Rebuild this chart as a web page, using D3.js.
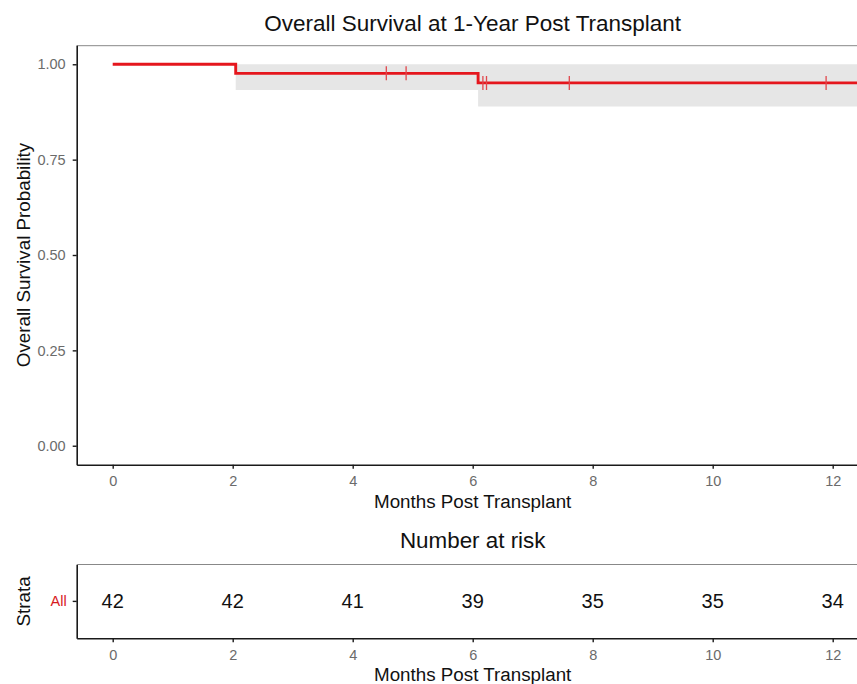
<!DOCTYPE html>
<html>
<head>
<meta charset="utf-8">
<script src="https://cdn.jsdelivr.net/npm/d3@7"></script>
<style>
  html, body { margin: 0; padding: 0; background: #fff; overflow: hidden; }
  svg { display: block; font-family: "Liberation Sans", Arial, Helvetica, sans-serif; }
</style>
</head>
<body>
<svg id="chart" width="857" height="684"></svg>
<script>
// Kaplan-Meier estimate, all patients
const eventTimes   = [0, 2.05, 6.09];
const survival     = [1, 0.9762, 0.9512];
const lowerCI      = [1, 0.9326, 0.889];
const upperCI      = [1, 1, 1];
const followUpEnd  = 12.6;
const censorTimes  = [4.56, 4.89, 6.17, 6.23, 7.61, 11.89];

// Number-at-risk table
const riskTimes    = [0, 2, 4, 6, 8, 10, 12];
const riskCounts   = [42, 42, 41, 39, 35, 35, 34];
const strata       = ["All"];

const xTicks = [0, 2, 4, 6, 8, 10, 12];
const yTicks = [0, 0.25, 0.5, 0.75, 1];

const curveColor = "#e5161d";
const tickColor = "#6b6b6b";

const svg = d3.select("#chart");

const panelLeft = 76.7, panelRight = 868.7;
const x = d3.scaleLinear().domain([-0.6, 12.6]).range([panelLeft, panelRight]);
const y = d3.scaleLinear().domain([-0.05, 1.05]).range([464.8, 45.2]);

// step data: survival holds until the next event, then runs to end of follow-up
const steps = eventTimes.map((t, i) => ({ t, s: survival[i], lo: lowerCI[i], hi: upperCI[i] }));
steps.push({ t: followUpEnd, s: survival[survival.length - 1], lo: lowerCI[lowerCI.length - 1], hi: upperCI[upperCI.length - 1] });

svg.append("defs").append("clipPath").attr("id", "panelClip")
  .append("rect").attr("x", panelLeft).attr("y", 45.2).attr("width", panelRight - panelLeft).attr("height", 464.8 - 45.2);

// Title
svg.append("text")
  .attr("x", (panelLeft + panelRight) / 2).attr("y", 31)
  .attr("text-anchor", "middle").attr("font-size", 22.5).attr("fill", "#111")
  .text("Overall Survival at 1-Year Post Transplant");

const plot = svg.append("g").attr("clip-path", "url(#panelClip)");

// confidence band
plot.append("path")
  .datum(steps)
  .attr("fill", "#e6e6e6")
  .attr("d", d3.area().curve(d3.curveStepAfter)
    .x(d => x(d.t)).y0(d => y(d.lo)).y1(d => y(d.hi)));

// survival curve
plot.append("path")
  .datum(steps)
  .attr("fill", "none")
  .attr("stroke", curveColor)
  .attr("stroke-width", 2.9)
  .attr("d", d3.line().curve(d3.curveStepAfter).x(d => x(d.t)).y(d => y(d.s)));

// censor marks
const survAt = t => { let s = 1; eventTimes.forEach((e, i) => { if (e <= t) s = survival[i]; }); return s; };
plot.selectAll("line.censor")
  .data(censorTimes)
  .join("line")
  .attr("class", "censor")
  .attr("x1", d => x(d)).attr("x2", d => x(d))
  .attr("y1", d => y(survAt(d)) - 7).attr("y2", d => y(survAt(d)) + 7)
  .attr("stroke", "#e0474c").attr("stroke-width", 1.3);

// panel frame top
svg.append("line").attr("x1", panelLeft).attr("x2", 857).attr("y1", 45.7).attr("y2", 45.7)
  .attr("stroke", "#888").attr("stroke-width", 1);

// axes
function styleAxis(g) {
  g.selectAll(".domain").attr("stroke", "#1a1a1a").attr("stroke-width", 1.6);
  g.selectAll(".tick line").attr("stroke", "#1a1a1a").attr("stroke-width", 1.4);
  g.selectAll(".tick text").attr("fill", tickColor).attr("font-size", 14.5)
    .attr("font-family", "'Liberation Sans', Arial, sans-serif");
}

const xAxisG = svg.append("g").attr("transform", "translate(0,464.8)")
  .call(d3.axisBottom(x).tickValues(xTicks).tickSize(4).tickPadding(7).tickSizeOuter(0));
styleAxis(xAxisG);

const yAxisG = svg.append("g").attr("transform", `translate(${panelLeft},0)`)
  .call(d3.axisLeft(y).tickValues(yTicks).tickFormat(d3.format(".2f")).tickSize(4).tickPadding(7).tickSizeOuter(0));
styleAxis(yAxisG);

svg.append("text")
  .attr("x", (panelLeft + panelRight) / 2).attr("y", 508)
  .attr("text-anchor", "middle").attr("font-size", 18.8).attr("fill", "#111")
  .text("Months Post Transplant");

svg.append("text")
  .attr("transform", `translate(30,${(45.2 + 464.8) / 2}) rotate(-90)`)
  .attr("text-anchor", "middle").attr("font-size", 18.8).attr("fill", "#111")
  .text("Overall Survival Probability");

// ---- Number at risk table ----
svg.append("text")
  .attr("x", (panelLeft + panelRight) / 2).attr("y", 548)
  .attr("text-anchor", "middle").attr("font-size", 22.4).attr("fill", "#111")
  .text("Number at risk");

const rTop = 564.5, rBottom = 638.3;
const yr = d3.scaleBand().domain(strata).range([rBottom, rTop]);

svg.append("line").attr("x1", panelLeft).attr("x2", 857).attr("y1", rTop).attr("y2", rTop)
  .attr("stroke", "#888").attr("stroke-width", 1);

svg.selectAll("text.risk")
  .data(riskTimes.map((t, i) => ({ t, n: riskCounts[i] })))
  .join("text")
  .attr("class", "risk")
  .attr("x", d => x(d.t))
  .attr("y", yr("All") + yr.bandwidth() / 2 + 7)
  .attr("text-anchor", "middle").attr("font-size", 20).attr("fill", "#111")
  .text(d => d.n);

const rxAxis = svg.append("g").attr("transform", `translate(0,${rBottom})`)
  .call(d3.axisBottom(x).tickValues(xTicks).tickSize(4).tickPadding(7).tickSizeOuter(0));
styleAxis(rxAxis);

const ryAxis = svg.append("g").attr("transform", `translate(${panelLeft},0)`)
  .call(d3.axisLeft(yr).tickSize(4).tickPadding(6).tickSizeOuter(0));
styleAxis(ryAxis);
ryAxis.selectAll(".tick text").attr("fill", "#d7191c");

svg.append("text")
  .attr("x", (panelLeft + panelRight) / 2).attr("y", 681)
  .attr("text-anchor", "middle").attr("font-size", 18.8).attr("fill", "#111")
  .text("Months Post Transplant");

svg.append("text")
  .attr("transform", `translate(30,${(rTop + rBottom) / 2}) rotate(-90)`)
  .attr("text-anchor", "middle").attr("font-size", 18.8).attr("fill", "#111")
  .text("Strata");
</script>
</body>
</html>
